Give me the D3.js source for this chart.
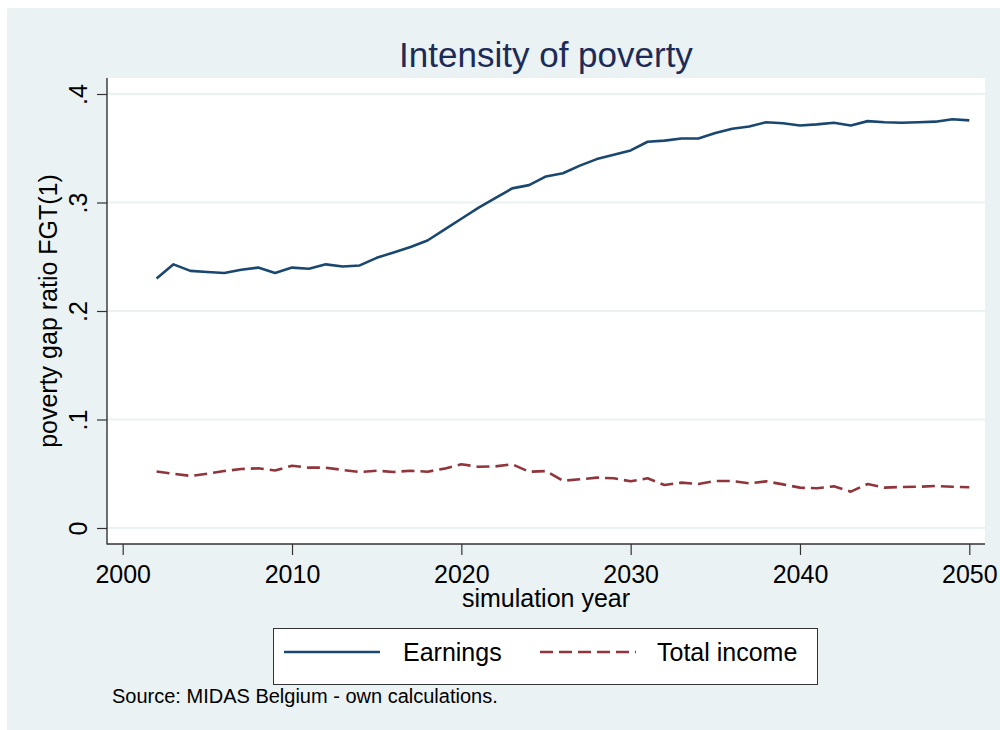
<!DOCTYPE html>
<html>
<head>
<meta charset="utf-8">
<script src="https://cdn.jsdelivr.net/npm/d3@7"></script>
<style>
  body { margin: 0; background: #fff; }
  svg { display: block; font-family: "Liberation Sans", Arial, sans-serif; }
</style>
</head>
<body>
<div id="chart"></div>
<script>
// simulation years 2002..2050
const years = [2002, 2003, 2004, 2005, 2006, 2007, 2008, 2009, 2010, 2011,
  2012, 2013, 2014, 2015, 2016, 2017, 2018, 2019, 2020, 2021,
  2022, 2023, 2024, 2025, 2026, 2027, 2028, 2029, 2030, 2031,
  2032, 2033, 2034, 2035, 2036, 2037, 2038, 2039, 2040, 2041,
  2042, 2043, 2044, 2045, 2046, 2047, 2048, 2049, 2050];

const earnings = [0.230, 0.243, 0.237, 0.236, 0.235, 0.238, 0.240, 0.235, 0.240, 0.239,
  0.243, 0.241, 0.242, 0.249, 0.254, 0.259, 0.265, 0.275, 0.285, 0.295,
  0.304, 0.313, 0.316, 0.324, 0.327, 0.334, 0.340, 0.344, 0.348, 0.356,
  0.357, 0.359, 0.359, 0.364, 0.368, 0.370, 0.374, 0.373, 0.371, 0.372,
  0.3735, 0.371, 0.375, 0.374, 0.3735, 0.374, 0.3745, 0.3767, 0.3757];

const totalIncome = [0.052, 0.050, 0.048, 0.050, 0.0525, 0.0544, 0.055, 0.053, 0.0574, 0.0556,
  0.0556, 0.0535, 0.0516, 0.0528, 0.0516, 0.0528, 0.0519, 0.0547, 0.0587, 0.0565,
  0.0568, 0.0587, 0.0519, 0.0525, 0.0436, 0.0449, 0.0464, 0.0458, 0.043, 0.0458,
  0.0396, 0.0418, 0.0406, 0.0433, 0.0433, 0.0412, 0.043, 0.0402, 0.0372, 0.0366,
  0.0384, 0.0335, 0.0406, 0.0372, 0.0378, 0.038, 0.0387, 0.038, 0.0375];

const xTicks = [2000, 2010, 2020, 2030, 2040, 2050];
const yTicks = [0, 0.1, 0.2, 0.3, 0.4];
const seriesNames = ["Earnings", "Total income"];

const W = 1000, H = 730;
const bg = "#eaf2f3";
const navy = "#1a476f", maroon = "#90353b";

const svg = d3.select("#chart").append("svg").attr("width", W).attr("height", H);

// outer background
svg.append("rect").attr("x", 7).attr("y", 8).attr("width", W - 7).attr("height", H - 8).attr("fill", bg);

// plot region
const plot = { left: 107, right: 985, top: 78, bottom: 544 };
svg.append("rect").attr("x", plot.left).attr("y", plot.top)
  .attr("width", plot.right - plot.left).attr("height", plot.bottom - plot.top).attr("fill", "#fff");

const x = d3.scaleLinear().domain([2000, 2050]).range([122.7, 969.3]);
const y = d3.scaleLinear().domain([0, 0.4]).range([528, 94]);

// grid lines
svg.append("g").selectAll("line").data(yTicks).join("line")
  .attr("x1", plot.left).attr("x2", plot.right)
  .attr("y1", d => y(d)).attr("y2", d => y(d))
  .attr("stroke", bg).attr("stroke-width", 2);

// y axis
const fmtY = d => d === 0 ? "0" : d3.format(".1f")(d).replace(/^0/, "");
const gy = svg.append("g").attr("transform", `translate(${plot.left},0)`)
  .call(d3.axisLeft(y).tickValues(yTicks).tickFormat(fmtY).tickSize(10));
gy.select(".domain").remove();
gy.selectAll(".tick line").attr("stroke", "#333").attr("stroke-width", 1.2);
gy.selectAll(".tick text")
  .attr("x", null).attr("dy", null)
  .attr("transform", "translate(-20,0) rotate(-90)")
  .attr("text-anchor", "middle")
  .attr("font-size", 25).attr("fill", "#000");

// x axis
const gx = svg.append("g").attr("transform", `translate(0,${plot.bottom})`)
  .call(d3.axisBottom(x).tickValues(xTicks).tickFormat(d3.format("d")).tickSize(11));
gx.select(".domain").remove();
gx.selectAll(".tick line").attr("stroke", "#333").attr("stroke-width", 1.2);
gx.selectAll(".tick text").attr("dy", null).attr("y", 39)
  .attr("font-size", 25).attr("fill", "#000");

// axis lines
svg.append("line").attr("x1", plot.left).attr("x2", plot.left)
  .attr("y1", plot.top).attr("y2", plot.bottom + 0.6).attr("stroke", "#333").attr("stroke-width", 1.4);
svg.append("line").attr("x1", plot.left).attr("x2", plot.right)
  .attr("y1", plot.bottom).attr("y2", plot.bottom).attr("stroke", "#333").attr("stroke-width", 1.4);

// lines
const line = d3.line().x((d, i) => x(years[i])).y(d => y(d));
svg.append("path").datum(totalIncome).attr("d", line)
  .attr("fill", "none").attr("stroke", maroon).attr("stroke-width", 2.6)
  .attr("stroke-dasharray", "13,6").attr("stroke-linejoin", "round");
svg.append("path").datum(earnings).attr("d", line)
  .attr("fill", "none").attr("stroke", navy).attr("stroke-width", 2.6)
  .attr("stroke-linejoin", "round");

// title
svg.append("text").attr("x", 546).attr("y", 67).attr("text-anchor", "middle")
  .attr("font-size", 35).attr("fill", "#1c2b57").text("Intensity of poverty");

// axis titles
svg.append("text").attr("transform", "translate(57,311) rotate(-90)")
  .attr("text-anchor", "middle").attr("font-size", 25).attr("fill", "#000")
  .text("poverty gap ratio FGT(1)");
svg.append("text").attr("x", 546).attr("y", 607).attr("text-anchor", "middle")
  .attr("font-size", 25).attr("fill", "#000").text("simulation year");

// legend
const lg = svg.append("g");
lg.append("rect").attr("x", 273.5).attr("y", 628.5).attr("width", 544).attr("height", 56)
  .attr("fill", "#fff").attr("stroke", "#333").attr("stroke-width", 1);
const legendItems = [
  { name: seriesNames[0], color: navy, dash: null, x0: 284, tx: 403 },
  { name: seriesNames[1], color: maroon, dash: "13,6", x0: 540, tx: 657 }
];
legendItems.forEach(it => {
  lg.append("line").attr("x1", it.x0).attr("x2", it.x0 + 96).attr("y1", 652).attr("y2", 652)
    .attr("stroke", it.color).attr("stroke-width", 2.6).attr("stroke-dasharray", it.dash);
  lg.append("text").attr("x", it.tx).attr("y", 661).attr("font-size", 25).attr("fill", "#000").text(it.name);
});

// note
svg.append("text").attr("x", 112).attr("y", 703).attr("font-size", 20).attr("fill", "#000")
  .text("Source: MIDAS Belgium - own calculations.");
</script>
</body>
</html>
